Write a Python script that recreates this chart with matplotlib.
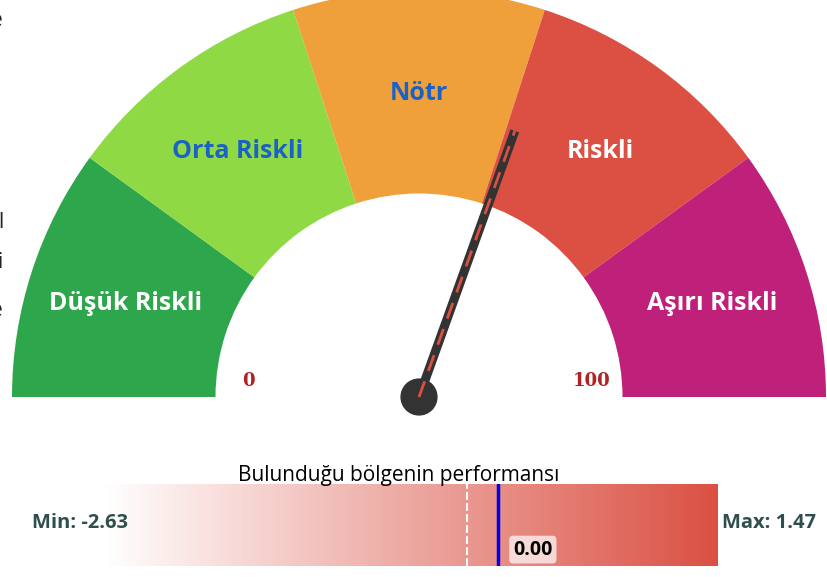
import numpy as np
import matplotlib
matplotlib.use("Agg")
import matplotlib.pyplot as plt
from matplotlib.patches import Wedge, Circle
from matplotlib.colors import LinearSegmentedColormap

# gauge data
segment_labels = ["Düşük Riskli", "Orta Riskli", "Nötr", "Riskli", "Aşırı Riskli"]
segment_colors = ["#2ea64b", "#8fd945", "#f0a03a", "#db5043", "#bf2079"]
label_colors = ["white", "#1b62c6", "#1b62c6", "white", "white"]
gauge_min, gauge_max = 0, 100
gauge_value = 61

# performance bar data
perf_title = "Bulunduğu bölgenin performansı"
perf_min, perf_max = -2.63, 1.47
perf_value = 0.00
perf_ref = -0.21

W, H = 827, 577
R = 407.0  # outer radius in px
cx, cy = 419.0, 397.0

fig = plt.figure(figsize=(W / 100, H / 100), dpi=100)
ax = fig.add_axes([0, 0, 1, 1])
ax.set_xlim(-cx / R, (W - cx) / R)
ax.set_ylim(-(H - cy) / R, cy / R)
ax.axis("off")

n = len(segment_labels)
step = 180.0 / n
for i, (lab, col, tcol) in enumerate(zip(segment_labels, segment_colors, label_colors)):
    a1 = 180 - (i + 1) * step
    a2 = 180 - i * step
    ax.add_patch(Wedge((0, 0), 1.0, a1, a2, width=0.5, facecolor=col, edgecolor="none"))
    mid = np.deg2rad((a1 + a2) / 2)
    ax.text(0.758 * np.cos(mid), 0.745 * np.sin(mid), lab, ha="center", va="center",
            color=tcol, fontsize=18, fontweight="bold", family="Open Sans")

ax.text(-0.42, 0.04, str(gauge_min), ha="center", va="center", color="#b22222",
        fontsize=13, fontweight="bold", family="DejaVu Serif")
ax.text(0.425, 0.04, str(gauge_max), ha="center", va="center", color="#b22222",
        fontsize=13, fontweight="bold", family="DejaVu Serif")

theta = np.deg2rad(180 - (gauge_value - gauge_min) / (gauge_max - gauge_min) * 180)
L = 0.695
nx, ny = L * np.cos(theta), L * np.sin(theta)
ax.plot([0, nx], [0, ny], color="#333333", lw=6.5, solid_capstyle="butt", zorder=5)
ax.add_patch(Circle((0, 0), 0.044, color="#333333", zorder=6))
ax.plot([0, nx], [0, ny], color="#db5043", lw=2, ls=(0, (6, 4)), zorder=7)

# clipped text fragments on the left edge
for ypx, ch in [(20, "e"), (222, "l"), (262, "i"), (311, "e")]:
    ax.text((3 - cx) / R, (cy - ypx) / R, ch, ha="right", va="center",
            fontsize=15, color="#222222", family="Open Sans")

# performance bar
bx = fig.add_axes([105 / W, (H - 566) / H, 613 / W, 82 / H])
cmap = LinearSegmentedColormap.from_list("wr", ["#ffffff", "#db5043"])
grad = np.linspace(0, 1, 256).reshape(1, -1)
bx.imshow(grad, cmap=cmap, aspect="auto", extent=[perf_min, perf_max, 0, 1])
bx.set_xlim(perf_min, perf_max)
bx.set_ylim(0, 1)
bx.axis("off")
bx.axvline(perf_ref, color="white", lw=1.5, ls="--")
bx.axvline(perf_value, color="#0000ee", lw=2.5)
bx.text(perf_value + 0.1, 0.2, f"{perf_value:.2f}", ha="left", va="center",
        fontsize=14, fontweight="bold", family="Open Sans",
        bbox=dict(boxstyle="round,pad=0.2", facecolor="white", alpha=0.7, edgecolor="none"))

fig.text(399 / W, (H - 476) / H, perf_title, ha="center", va="center",
         fontsize=15, family="Open Sans")
fig.text(32 / W, (H - 523) / H, f"Min: {perf_min:.2f}", ha="left", va="center",
         fontsize=14.5, fontweight="bold", color="#2f4f4f", family="Open Sans")
fig.text(722 / W, (H - 523) / H, f"Max: {perf_max:.2f}", ha="left", va="center",
         fontsize=14.5, fontweight="bold", color="#2f4f4f", family="Open Sans")

fig.savefig("out.png", dpi=100)
